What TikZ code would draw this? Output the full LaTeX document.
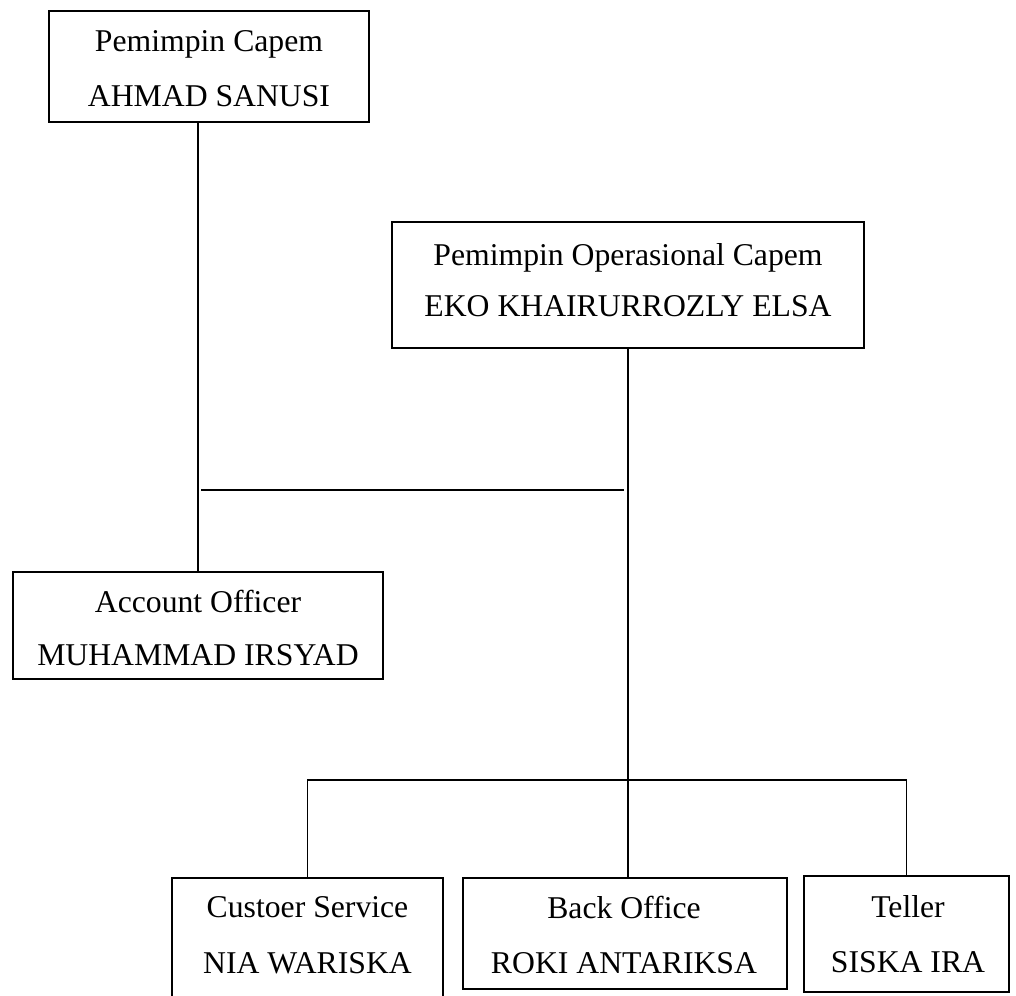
\documentclass[tikz,border=0pt]{standalone}
\usepackage{fontspec}
\setmainfont{Liberation Serif}
\begin{document}
\begin{tikzpicture}[x=0.5pt,y=-0.5pt,
  box/.style={draw=black, line width=0.6pt, rectangle, inner sep=0pt},
  lbl/.style={anchor=base, inner sep=0pt, text=black, font=\fontsize{15.85pt}{19pt}\selectfont},
  link/.style={draw=black, line width=0.8pt, line join=miter}]
\useasboundingbox (0,0) rectangle (1016,995);
\clip (0,0) rectangle (1016,995);

% boxes
\node[box, minimum width=160pt, minimum height=55.5pt] (pc)  at (209,66.5) {};
\node[box, minimum width=236pt, minimum height=63pt]   (poc) at (628,285) {};
\node[box, minimum width=185pt, minimum height=53.5pt] (ao)  at (198,625.5) {};
\node[box, minimum width=135.5pt, minimum height=61pt] (cs)  at (307.5,939) {};
\node[box, minimum width=162pt, minimum height=55.5pt] (bo)  at (625,933.5) {};
\node[box, minimum width=102.5pt, minimum height=58pt] (te)  at (906.5,934) {};

% texts
\node[lbl] (pc1)  at (209,52)  {Pemimpin Capem};
\node[lbl] (pc2)  at (209,106) {AHMAD SANUSI};
\node[lbl] (poc1) at (628,265) {Pemimpin Operasional Capem};
\node[lbl] (poc2) at (628,316) {EKO KHAIRURROZLY ELSA};
\node[lbl] (ao1)  at (198,612) {Account Officer};
\node[lbl] (ao2)  at (198,665) {MUHAMMAD IRSYAD};
\node[lbl] (cs1)  at (307.5,917) {Custoer Service};
\node[lbl] (cs2)  at (307.5,973) {NIA WARISKA};
\node[lbl] (bo1)  at (624,918) {Back Office};
\node[lbl] (bo2)  at (624,973) {ROKI ANTARIKSA};
\node[lbl] (te1)  at (908,917) {Teller};
\node[lbl] (te2)  at (908,972) {SISKA IRA};

% connectors
\coordinate (j1) at (201,490);
\coordinate (j2) at (624,490);
\coordinate (bar) at (0,780);

\draw[link] (pc.south -| ao.north) -- (ao.north);
\draw[link] (j1) -- (j2);
\draw[link] (poc.south) -- (poc.south |- bo.north);
\draw[link] (cs.north) -- (cs.north |- bar) -- (te.north |- bar) -- (te.north);
\end{tikzpicture}
\end{document}
